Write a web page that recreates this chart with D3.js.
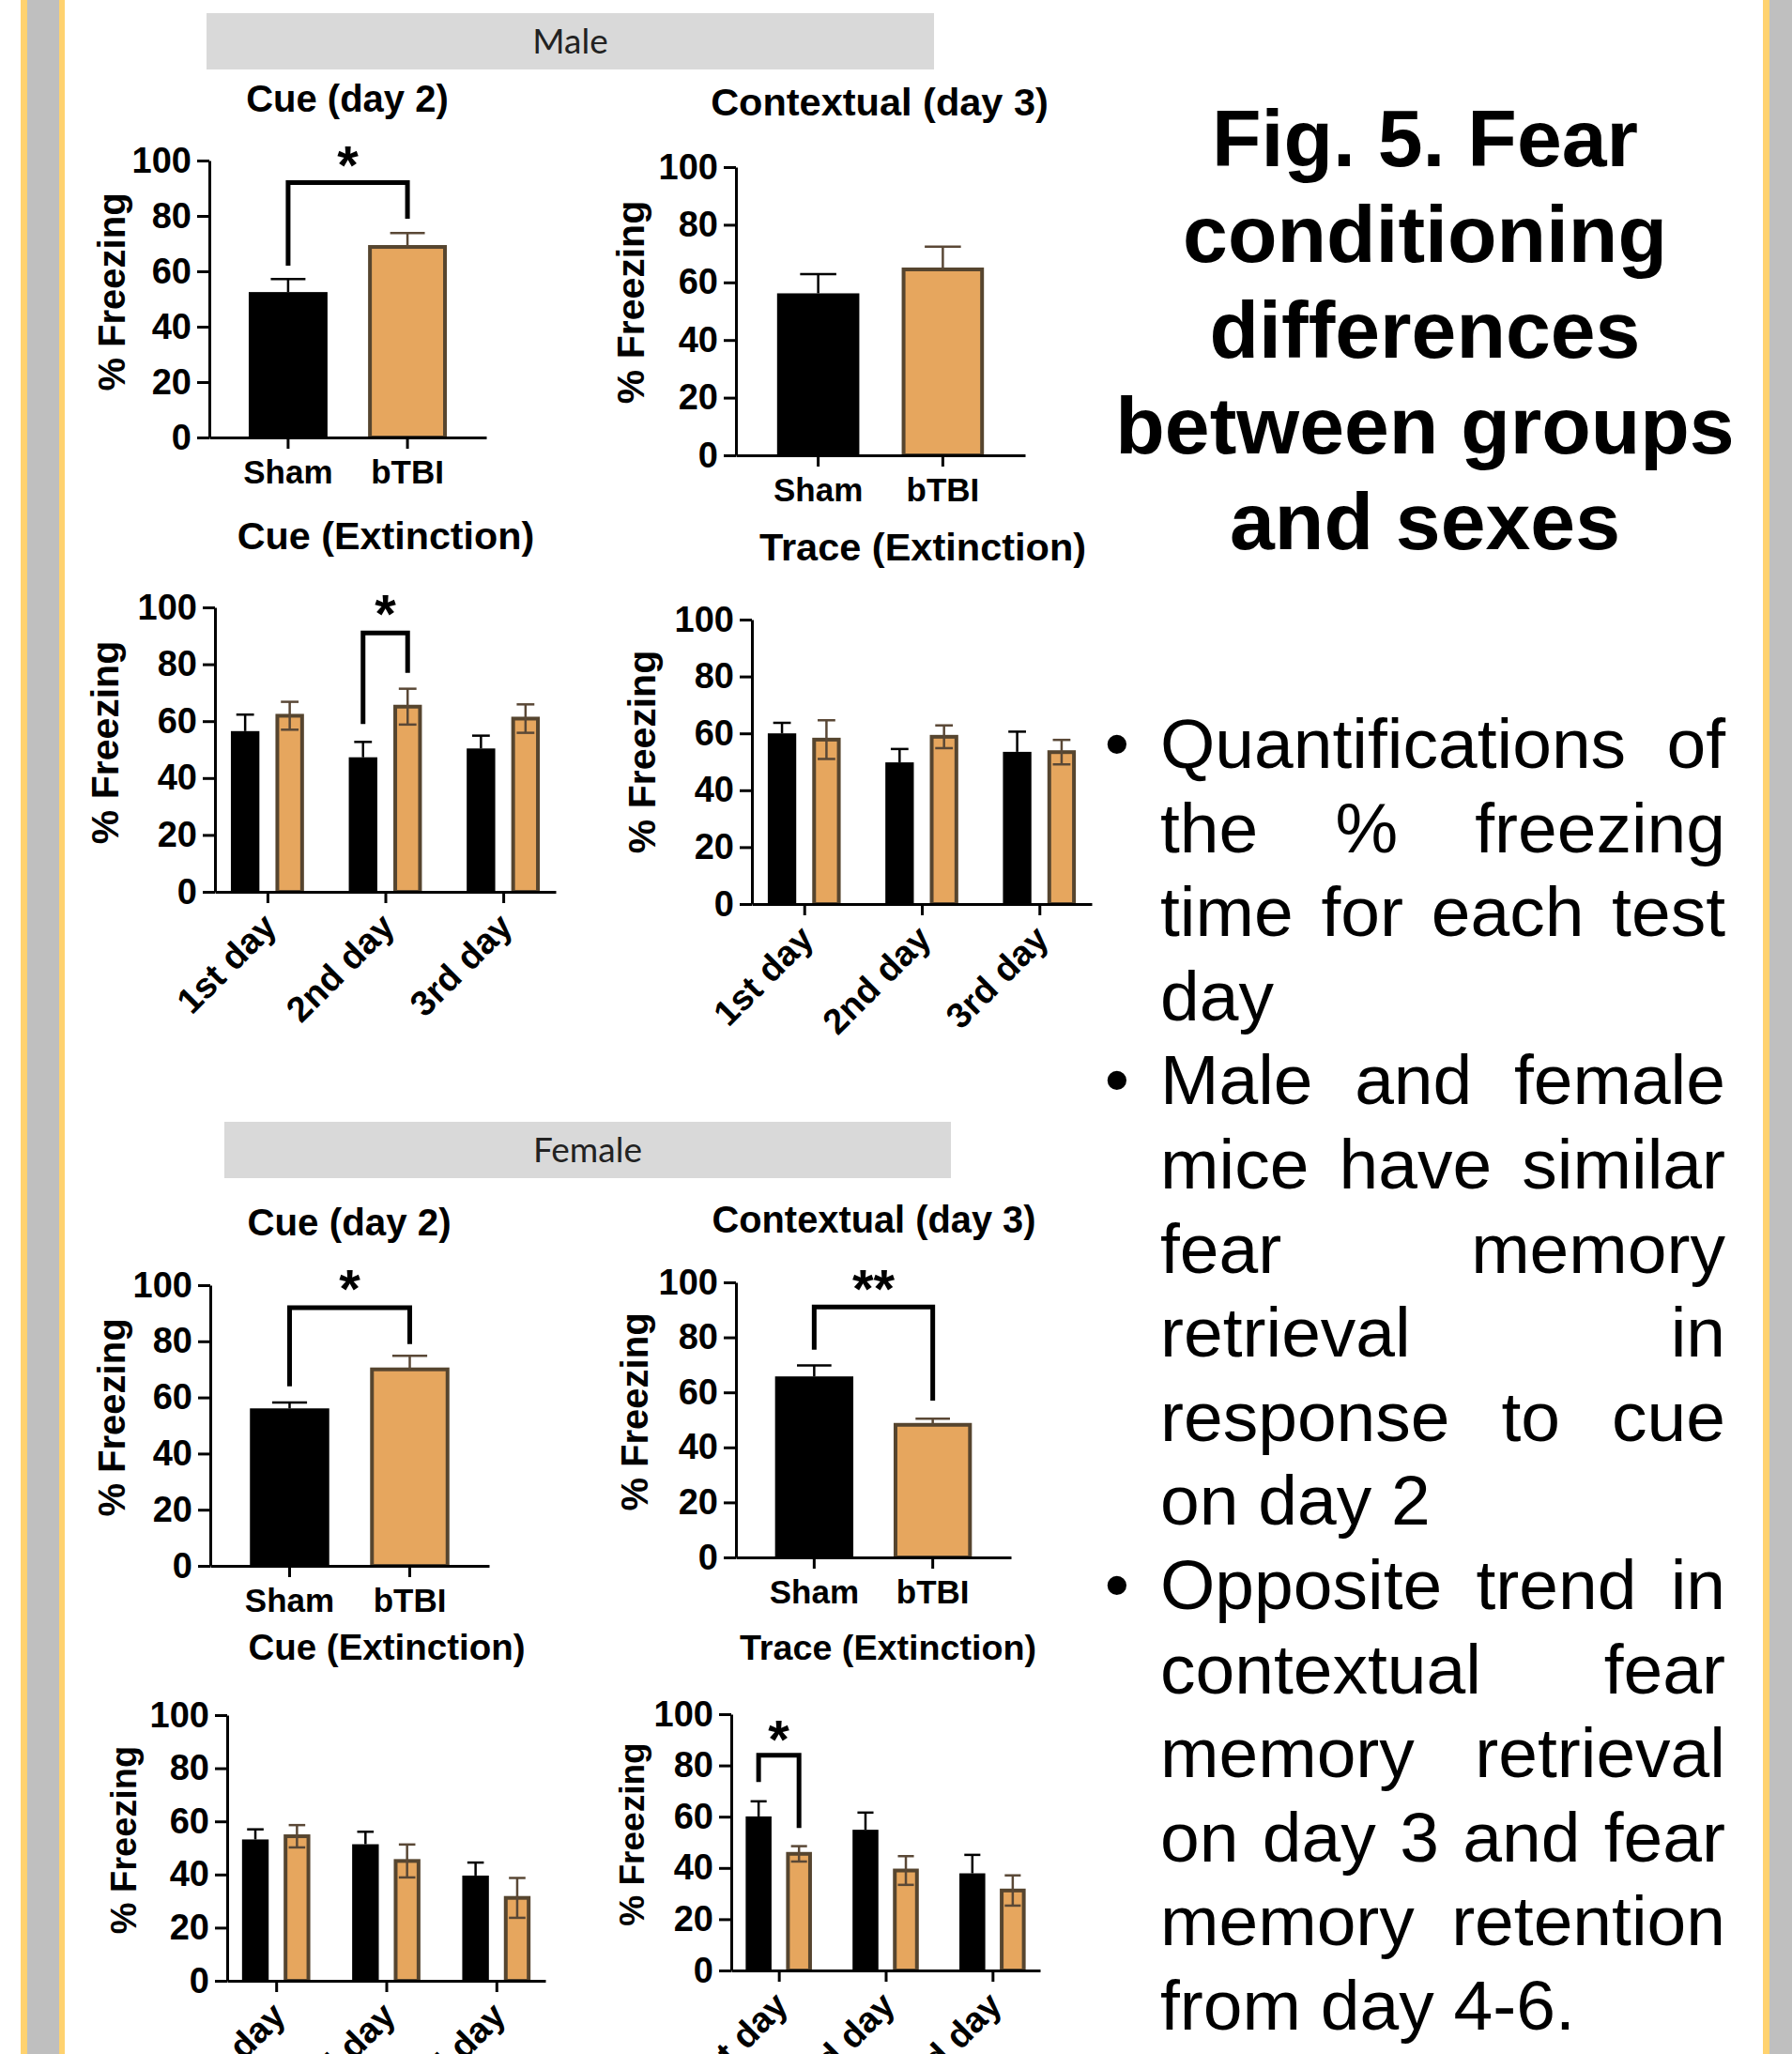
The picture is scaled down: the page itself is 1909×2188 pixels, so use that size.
<!DOCTYPE html>
<html>
<head>
<meta charset="utf-8">
<script src="https://cdn.jsdelivr.net/npm/d3@7"></script>
<style>
  html, body { margin: 0; padding: 0; background: #fff; }
  svg { display: block; }
</style>
</head>
<body>
<svg id="poster"></svg>
<script>
const W = 1909, H = 2188;
const FONT = '"Liberation Sans", Arial, Helvetica, sans-serif';

// ---- data (% freezing, mean and SEM) ----
const groups = ["Sham", "bTBI"];
const days = ["1st day", "2nd day", "3rd day"];
const yTicks = [0, 20, 40, 60, 80, 100];

// male
const maleCueDay2 = [52.5, 68.8], maleCueDay2Sem = [4.7, 5.0];
const maleCtxDay3 = [56.2, 64.5], maleCtxDay3Sem = [6.7, 7.9];
const maleCueExtSham = [56.5, 47.3, 50.4], maleCueExtShamSem = [5.8, 5.4, 4.5];
const maleCueExtTbi = [61.9, 65.1, 60.9], maleCueExtTbiSem = [4.9, 6.3, 5.0];
const maleTraceExtSham = [60.0, 49.8, 53.5], maleTraceExtShamSem = [3.7, 4.7, 7.1];
const maleTraceExtTbi = [57.8, 58.8, 53.4], maleTraceExtTbiSem = [6.8, 4.0, 4.3];

// female
const femCueDay2 = [56.1, 70.0], femCueDay2Sem = [2.1, 4.8];
const femCtxDay3 = [65.8, 48.2], femCtxDay3Sem = [4.0, 2.2];
const femCueExtSham = [53.2, 51.4, 39.6], femCueExtShamSem = [3.8, 4.7, 4.9];
const femCueExtTbi = [54.4, 45.1, 31.2], femCueExtTbiSem = [4.2, 6.2, 7.5];
const femTraceExtSham = [60.1, 54.9, 37.9], femTraceExtShamSem = [5.9, 6.7, 7.2];
const femTraceExtTbi = [45.5, 39.0, 31.2], femTraceExtTbiSem = [3.0, 5.6, 5.9];

// significance brackets: bar height, left/right leg ends (data units)
const maleCueDay2Sig = { top: 92, left: 62, right: 79, label: "*" };
const maleCueExtSig = { day: "2nd day", top: 91, left: 59, right: 77, label: "*" };
const femCueDay2Sig = { top: 92, left: 64, right: 79, label: "*" };
const femCtxDay3Sig = { top: 91, left: 75.5, right: 57, label: "**" };
const femTraceExtSig = { day: "1st day", top: 84, left: 73.5, right: 55.6, label: "*" };

const headingLines = ["Fig. 5. Fear", "conditioning", "differences", "between groups", "and sexes"];
const bulletLines = [
  ["Quantifications of", true, false],
  ["the % freezing", false, false],
  ["time for each test", false, false],
  ["day", false, true],
  ["Male and female", true, false],
  ["mice have similar", false, false],
  ["fear memory", false, false],
  ["retrieval in", false, false],
  ["response to cue", false, false],
  ["on day 2", false, true],
  ["Opposite trend in", true, false],
  ["contextual fear", false, false],
  ["memory retrieval", false, false],
  ["on day 3 and fear", false, false],
  ["memory retention", false, false],
  ["from day 4-6.", false, true]
];

const SHAM = "#000000", TBI_FILL = "#E6A65E", TBI_EDGE = "#56452F";

const svg = d3.select("#poster")
  .attr("width", W).attr("height", H)
  .style("font-family", FONT);

svg.append("rect").attr("width", W).attr("height", H).attr("fill", "#fff");

// poster side borders
[[22, 7, "#FFD26F"], [29, 34, "#BFBFBF"], [63, 6, "#FFD26F"],
 [1878, 7, "#FFD26F"], [1885, 24, "#BFBFBF"]].forEach(b => {
  svg.append("rect").attr("x", b[0]).attr("y", 0).attr("width", b[1]).attr("height", H).attr("fill", b[2]);
});

// sex header boxes
[{ label: "Male", x: 220, y: 14, w: 775, h: 60 },
 { label: "Female", x: 239, y: 1195, w: 774, h: 60 }].forEach(h => {
  svg.append("rect").attr("x", h.x).attr("y", h.y).attr("width", h.w).attr("height", h.h).attr("fill", "#D9D9D9");
  svg.append("text").attr("x", h.x + h.w / 2).attr("y", h.y + h.h / 2 + 13)
    .attr("text-anchor", "middle").attr("font-family", "Lato, 'Open Sans', sans-serif")
    .attr("font-size", 37).attr("fill", "#222").text(h.label);
});

const panels = [
  { kind: "pair", title: "Cue (day 2)", ts: 40, tx: 370, ty: 119, x0: 223, x1: 518, yTop: 171, yBot: 466,
    lx: 133, ly: 311, ls: 40, mean: maleCueDay2, sem: maleCueDay2Sem, sig: maleCueDay2Sig },
  { kind: "pair", title: "Contextual (day 3)", ts: 41.5, tx: 937, ty: 123, x0: 784, x1: 1092, yTop: 178, yBot: 485,
    lx: 686, ly: 322, ls: 41, mean: maleCtxDay3, sem: maleCtxDay3Sem },
  { kind: "days", title: "Cue (Extinction)", ts: 41.3, tx: 411, ty: 585, x0: 229, x1: 592, yTop: 647, yBot: 950,
    lx: 126, ly: 791, ls: 41, sham: maleCueExtSham, shamSem: maleCueExtShamSem,
    tbi: maleCueExtTbi, tbiSem: maleCueExtTbiSem, sig: maleCueExtSig },
  { kind: "days", title: "Trace (Extinction)", ts: 41.5, tx: 983, ty: 597, x0: 801, x1: 1163, yTop: 660, yBot: 963,
    lx: 698, ly: 801, ls: 41, sham: maleTraceExtSham, shamSem: maleTraceExtShamSem,
    tbi: maleTraceExtTbi, tbiSem: maleTraceExtTbiSem },
  { kind: "pair", title: "Cue (day 2)", ts: 40.3, tx: 372, ty: 1316, x0: 224, x1: 521, yTop: 1369, yBot: 1668,
    lx: 133, ly: 1510, ls: 40, mean: femCueDay2, sem: femCueDay2Sem, sig: femCueDay2Sig },
  { kind: "pair", title: "Contextual (day 3)", ts: 39.8, tx: 931, ty: 1313, x0: 784, x1: 1077, yTop: 1366, yBot: 1659,
    lx: 690, ly: 1504, ls: 40, mean: femCtxDay3, sem: femCtxDay3Sem, sig: femCtxDay3Sig },
  { kind: "days", title: "Cue (Extinction)", ts: 38.5, tx: 412, ty: 1768, x0: 242, x1: 581, yTop: 1827, yBot: 2110,
    lx: 145, ly: 1960, ls: 38, sham: femCueExtSham, shamSem: femCueExtShamSem,
    tbi: femCueExtTbi, tbiSem: femCueExtTbiSem },
  { kind: "days", title: "Trace (Extinction)", ts: 37.7, tx: 946, ty: 1768, x0: 779, x1: 1108, yTop: 1826, yBot: 2099,
    lx: 686, ly: 1954, ls: 37, sham: femTraceExtSham, shamSem: femTraceExtShamSem,
    tbi: femTraceExtTbi, tbiSem: femTraceExtTbiSem, sig: femTraceExtSig }
];

function drawPanel(p) {
  const g = svg.append("g").attr("class", "panel");
  const y = d3.scaleLinear().domain([0, 100]).range([p.yBot, p.yTop]);

  let x, inner, rows, left, bw, capW;
  if (p.kind === "pair") {
    x = d3.scaleBand().domain(groups).range([p.x0, p.x1]).paddingInner(0.34).paddingOuter(0.33);
    bw = x.bandwidth();
    rows = groups.map((gr, i) => ({ cat: gr, group: gr, mean: p.mean[i], sem: p.sem[i], lower: false }));
    left = d => x(d.cat);
    capW = bw * 0.44;
  } else {
    x = d3.scalePoint().domain(days).range([p.x0, p.x1]).padding(0.445);
    const w = x.step() * 0.62;
    inner = d3.scaleBand().domain(groups).range([-w / 2, w / 2]).paddingInner(0.36);
    bw = inner.bandwidth();
    rows = [];
    days.forEach((dy, i) => {
      rows.push({ cat: dy, group: "Sham", mean: p.sham[i], sem: p.shamSem[i], lower: false });
      rows.push({ cat: dy, group: "bTBI", mean: p.tbi[i], sem: p.tbiSem[i], lower: true });
    });
    left = d => x(d.cat) + inner(d.group);
    capW = bw * 0.62;
  }

  // bars
  g.selectAll("rect.bar").data(rows).join("rect")
    .attr("class", "bar")
    .attr("x", d => d.group === "Sham" ? left(d) : left(d) + 2)
    .attr("width", d => d.group === "Sham" ? bw : bw - 4)
    .attr("y", d => y(d.mean))
    .attr("height", d => y(0) - y(d.mean))
    .attr("fill", d => d.group === "Sham" ? SHAM : TBI_FILL)
    .attr("stroke", d => d.group === "Sham" ? "none" : TBI_EDGE)
    .attr("stroke-width", 4);

  // error bars
  const err = g.selectAll("g.err").data(rows).join("g")
    .attr("class", "err")
    .attr("stroke", d => d.group === "Sham" ? SHAM : "#5A4836")
    .attr("stroke-width", 2.5);
  err.append("line")
    .attr("x1", d => left(d) + bw / 2).attr("x2", d => left(d) + bw / 2)
    .attr("y1", d => y(d.lower ? d.mean - d.sem : d.mean))
    .attr("y2", d => y(d.mean + d.sem));
  err.append("line")
    .attr("x1", d => left(d) + bw / 2 - capW / 2).attr("x2", d => left(d) + bw / 2 + capW / 2)
    .attr("y1", d => y(d.mean + d.sem)).attr("y2", d => y(d.mean + d.sem));
  err.filter(d => d.lower).append("line")
    .attr("x1", d => left(d) + bw / 2 - capW / 2).attr("x2", d => left(d) + bw / 2 + capW / 2)
    .attr("y1", d => y(d.mean - d.sem)).attr("y2", d => y(d.mean - d.sem));

  // y axis
  const gy = g.append("g").attr("transform", `translate(${p.x0},0)`)
    .call(d3.axisLeft(y).tickValues(yTicks).tickSize(13).tickSizeOuter(0).tickPadding(6))
    .attr("font-family", FONT).attr("font-size", 38).attr("font-weight", 700);
  gy.select(".domain").attr("stroke-width", 3);
  gy.selectAll(".tick line").attr("stroke-width", 3);

  // x axis
  const gx = g.append("g").attr("transform", `translate(0,${p.yBot})`)
    .call(d3.axisBottom(x).tickSize(12).tickSizeOuter(0).tickPadding(12))
    .attr("font-family", FONT).attr("font-size", p.kind === "pair" ? 35 : 38).attr("font-weight", 700);
  gx.select(".domain").attr("stroke-width", 3);
  gx.selectAll(".tick line").attr("stroke-width", 3);
  if (p.kind === "days") {
    gx.selectAll(".tick text")
      .attr("y", 0).attr("dy", "0.35em")
      .attr("text-anchor", "end")
      .attr("transform", "translate(2,30) rotate(-45)");
  }

  // y label
  g.append("text")
    .attr("transform", `translate(${p.lx},${p.ly}) rotate(-90)`)
    .attr("text-anchor", "middle").attr("font-size", p.ls).attr("font-weight", 700)
    .text("% Freezing");

  // title
  g.append("text").attr("x", p.tx).attr("y", p.ty)
    .attr("text-anchor", "middle").attr("font-size", p.ts).attr("font-weight", 700)
    .text(p.title);

  // significance bracket
  if (p.sig) {
    const s = p.sig;
    let xl, xr;
    if (p.kind === "pair") {
      xl = x("Sham") + bw / 2; xr = x("bTBI") + bw / 2;
    } else {
      xl = x(s.day) + inner("Sham") + bw / 2; xr = x(s.day) + inner("bTBI") + bw / 2;
    }
    g.append("path")
      .attr("d", `M${xl},${y(s.left)}V${y(s.top)}H${xr}V${y(s.right)}`)
      .attr("fill", "none").attr("stroke", "#000").attr("stroke-width", 5);
    g.append("text")
      .attr("x", (xl + xr) / 2).attr("y", y(s.top + 11)).attr("dy", "0.575em")
      .attr("text-anchor", "middle").attr("font-size", 58).attr("font-weight", 700)
      .text(s.label);
  }
}

panels.forEach(drawPanel);

// heading on the right
const head = svg.append("g").attr("font-weight", 700).attr("font-size", 86).attr("text-anchor", "middle");
headingLines.forEach((t, i) => {
  head.append("text").attr("x", 1518).attr("y", 177 + i * 102).text(t);
});

// justified bullet text
const textL = 1236, textR = 1838, lineStep = 89.6, firstBase = 818;
const body = svg.append("g").attr("font-size", 75).attr("fill", "#000");
bulletLines.forEach((ln, i) => {
  const base = firstBase + i * lineStep;
  if (ln[1]) {
    body.append("text").attr("x", 1190).attr("y", base).attr("text-anchor", "middle").text("\u2022");
  }
  const words = ln[0].split(" ");
  const nodes = words.map(w => body.append("text").attr("x", textL).attr("y", base).text(w));
  if (ln[2] || words.length < 2) {
    nodes.forEach(n => n.remove());
    body.append("text").attr("x", textL).attr("y", base).text(ln[0]);
    return;
  }
  const widths = nodes.map(n => n.node().getComputedTextLength());
  const gap = (textR - textL - d3.sum(widths)) / (words.length - 1);
  let cx = textL;
  nodes.forEach((n, k) => {
    n.attr("x", cx);
    cx += widths[k] + gap;
  });
});
</script>
</body>
</html>
